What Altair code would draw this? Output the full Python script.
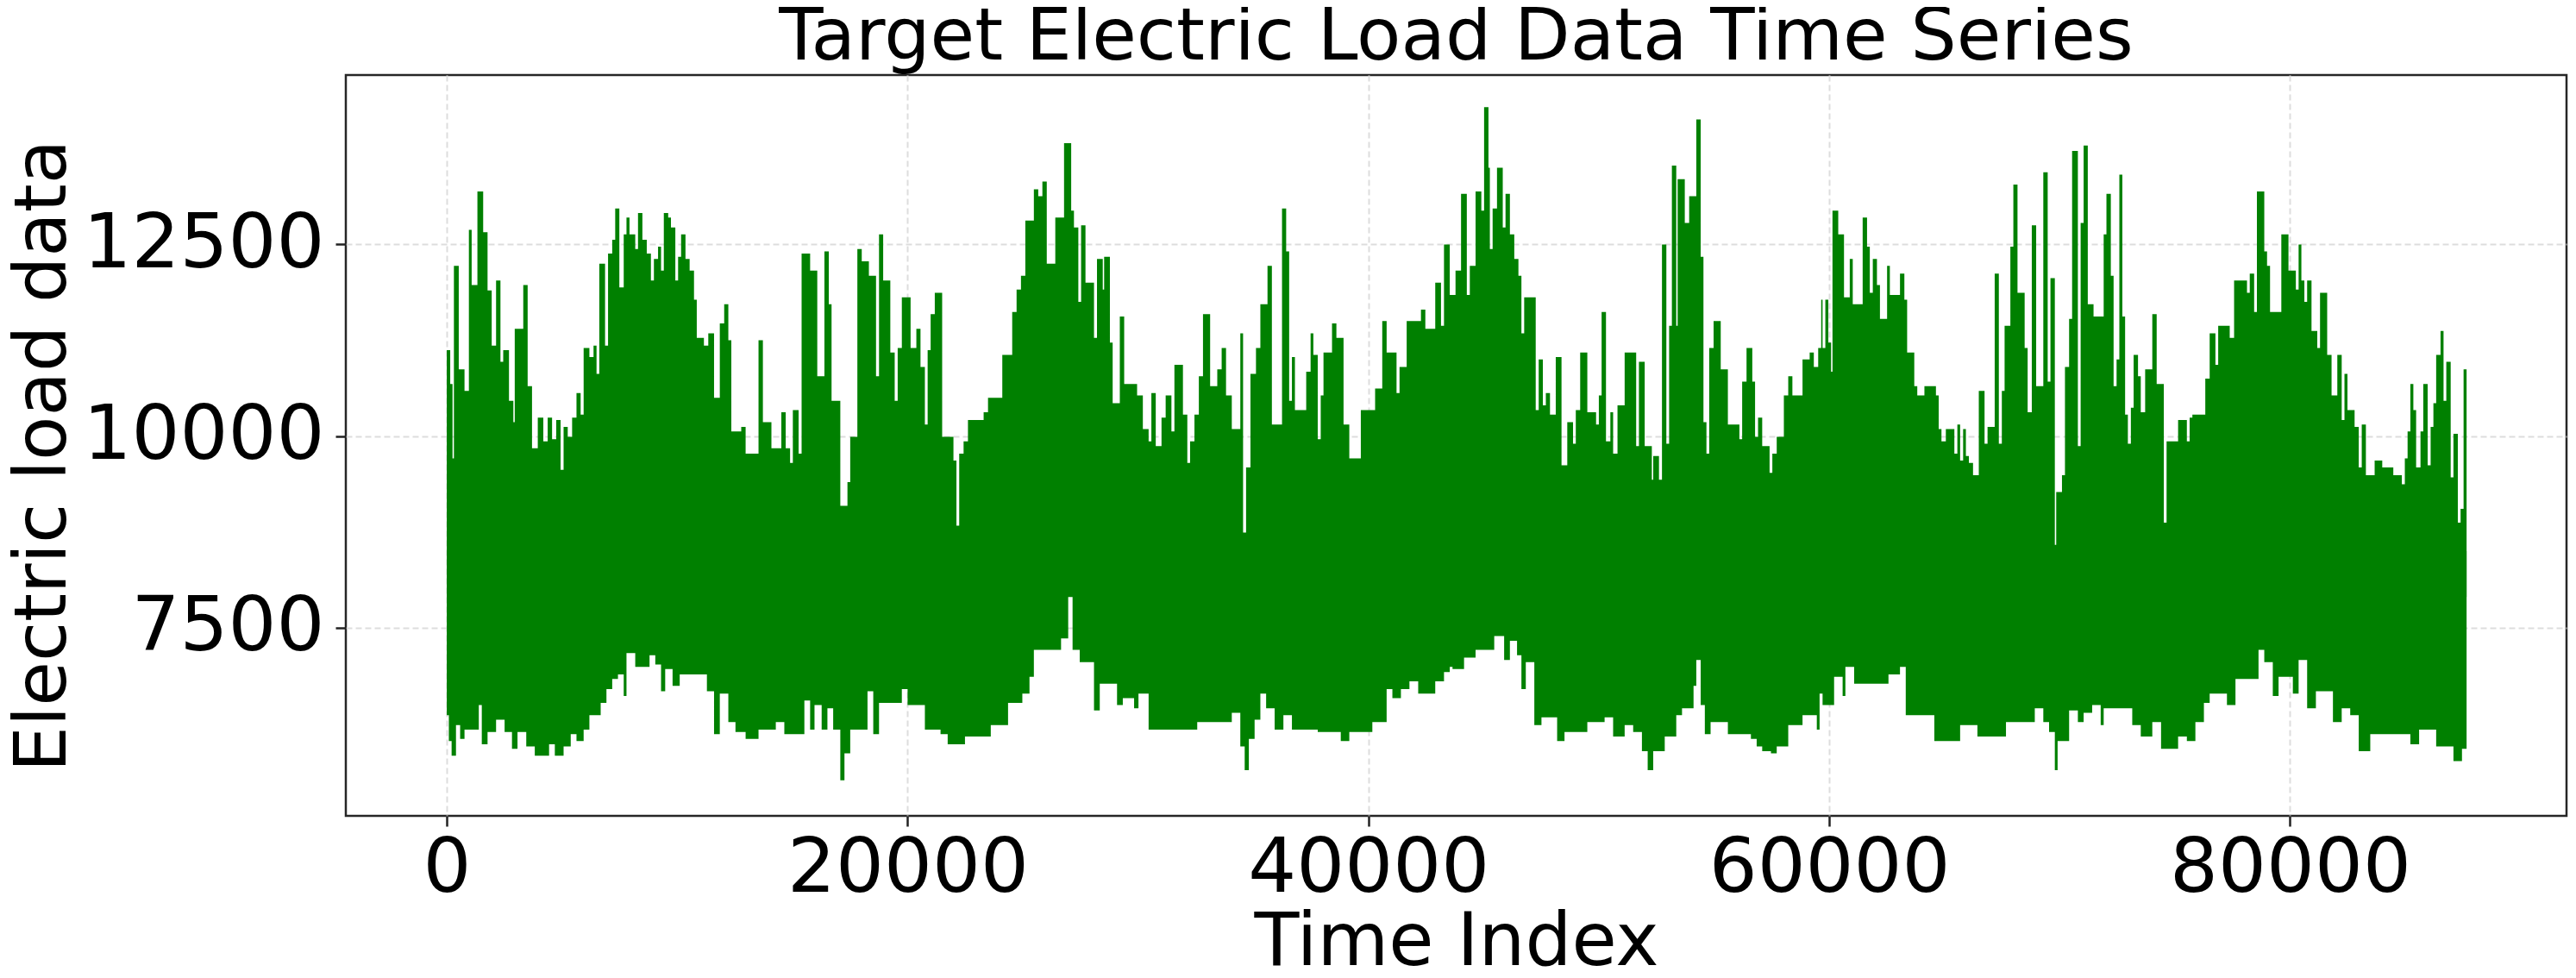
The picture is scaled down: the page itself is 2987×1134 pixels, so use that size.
import altair as alt
import pandas as pd

# ---- values (time index, electric load) ----
# upper envelope of the hourly series (start of each step, value)
upper_idx = [0, 150, 250, 310, 520, 770, 960, 1080, 1330, 1580, 1770, 1950, 2140, 2330, 2450, 2700, 2890, 2950, 3320, 3510, 3700, 3950, 4190, 4380, 4570, 4750, 4940, 5070, 5250, 5440, 5630, 5810, 5940, 6190, 6370, 6500, 6620, 6870, 7000, 7180, 7310, 7490, 7680, 7800, 7930, 8180, 8300, 8490, 8680, 8860, 8990, 9170, 9300, 9420, 9610, 9730, 9920, 10040, 10170, 10360, 10540, 10730, 10850, 11160, 11350,
             11600, 11850, 12040, 12220, 12350, 12780, 12970, 13530, 13720, 14090, 14520, 14710, 14900, 15020, 15270, 15400, 15770, 16080, 16390, 16580, 16700, 17080, 17390, 17510, 17820, 18010, 18320, 18630, 18760, 18940, 19250, 19440, 19570, 19750, 20130, 20380, 20560, 20750, 20870, 21000, 21180, 21500, 21990, 22120, 22240, 22430, 22620, 23300, 23490, 24110, 24540, 24730, 24920, 25110, 25480, 25670, 25850, 26040, 26410, 26790, 27100, 27220, 27410, 27530,
             27720, 28090, 28220, 28470, 28530, 28780, 28900, 29210, 29400, 29960, 30210, 30460, 30580, 30770, 31020, 31200, 31450, 31580, 31950, 32140, 32260, 32450, 32640, 32820, 33130, 33440, 33630, 33820, 34070, 34440, 34560, 34690, 34880, 35120, 35310, 35620, 35810, 36250, 36430, 36560, 36680, 36810, 37300, 37490, 37610, 37800, 37930, 38050, 38420, 38610, 38920, 39170, 39670, 40290, 40600, 40790, 41220, 41350, 41660, 42280, 42470, 42900, 43150, 43280, 43530,
             43780, 44020, 44270, 44400, 44650, 44900, 45020, 45210, 45270, 45390, 45580, 45830, 45950, 46140, 46330, 46510, 46640, 46760, 47260, 47390, 47570, 47700, 47880, 48130, 48380, 48630, 48880, 49000, 49190, 49500, 49880, 50000, 50120, 50310, 50500, 50620, 50810, 51120, 51620, 51740, 51990, 52300, 52360, 52610, 52740, 52930, 53050, 53170, 53360, 53420, 53730, 53920, 54230, 54420, 54540, 54670, 54790, 54980, 55290, 55600, 56100, 56220, 56410, 56660, 56780, 56910, 57090, 57410, 57530, 57720, 58030, 58220, 58400, 58840, 59150, 59330, 59520, 59650,
             59710, 59830, 59960, 60080, 60140, 60390, 60640, 60890, 61020, 61450, 61640, 61760, 61890, 62070, 62200, 62510, 62630, 63070, 63260, 63380, 63690, 63820, 64130, 64630, 64750, 64870, 65060, 65430, 65560, 65680, 65810, 65930, 66060, 66240, 66490, 66740, 66870, 67180, 67360, 67490, 67610, 67860, 67990, 68170, 68480, 68610, 68790, 68980, 69290, 69480, 69600, 69790, 69850, 70100, 70230, 70410, 70540, 70790, 70910, 71040, 71220, 71470, 71910, 72030, 72220, 72340, 72470, 72590, 72720, 72840, 72960, 73090, 73210, 73400, 73520, 73710, 74020, 74210, 74520, 74640, 75140, 75520, 75640,
             75760, 76320, 76510, 76760, 76880, 77380, 77570, 78130, 78250, 78440, 78560, 78880, 79000, 79130, 79620, 79930, 80250, 80370, 80490, 80620, 80740, 80930, 81180, 81300, 81610, 81800, 82050, 82240, 82360, 82490, 82800, 82980, 83110, 83290, 83670, 84000, 84480, 84850, 84980, 85100, 85220, 85350, 85470, 85660, 85780, 85970, 86100, 86220, 86340, 86530, 86660, 86780, 86970, 87090, 87280, 87400, 87530, 87660]
upper_val = [11120, 10680, 9710, 12220, 10870, 10590, 12690, 11970, 13190, 12660, 11900, 11180, 12030, 10970, 11120, 10460, 10180, 11400, 11970, 10650, 9840, 10240, 9930, 10240, 9960, 10210, 9560, 10120, 9990, 10240, 10560, 10280, 11150, 11030, 11180, 10810, 12250, 11180, 12380, 12560, 12970, 11940, 12630, 12850, 12630, 12440, 12910, 12560, 12380, 12030, 12310, 12470, 12160, 12910, 12850, 12720, 12030, 12340, 12630, 12310, 12160, 11780, 11280, 11180, 11340,
             10500, 11470, 11720, 11250, 10060, 10120, 9770, 11250, 10180, 9840, 10310, 9840, 9650, 10340, 9770, 12380, 12160, 10780, 12410, 11720, 10460, 9090, 9400, 9990, 12440, 12280, 12090, 10780, 12630, 12030, 11090, 10460, 11150, 11810, 11150, 11400, 10900, 10150, 11120, 11590, 11870, 9990, 9680, 8830, 9770, 9930, 10210, 10310, 10500, 11060, 11620, 11910, 12090, 12810, 13220, 13130, 13320, 12250, 12850, 13820, 12940, 12720, 11750, 12750,
             12000, 11280, 12310, 11910, 12340, 11220, 10430, 11560, 10680, 10530, 10090, 9930, 10560, 9870, 10240, 10530, 10060, 10930, 10280, 9650, 9930, 10280, 10780, 11590, 10650, 10870, 11150, 10530, 10090, 11340, 8740, 9590, 10810, 11150, 11720, 12220, 10150, 12970, 12410, 10460, 11030, 10340, 10840, 11340, 11060, 9960, 10530, 11090, 11470, 11280, 10150, 9710, 10340, 10620, 11500, 11090, 10560, 10900, 11500, 11650, 11400, 12000, 11440, 12500, 11840,
             12160, 13160, 11840, 12220, 13190, 12940, 14290, 13500, 12440, 12970, 13500, 12720, 13160, 12630, 12310, 12090, 11340, 11810, 10340, 11000, 10400, 10560, 10280, 11030, 9620, 10180, 9900, 10340, 11090, 10310, 10150, 10530, 11620, 9930, 10310, 9770, 10400, 11090, 9870, 10970, 9870, 9430, 9740, 9430, 12500, 9900, 11440, 13530, 11440, 13350, 12780, 13130, 14130, 12340, 10180, 9770, 11150, 11500, 10870, 10150, 9960, 10710, 11150, 10710, 9990, 10240, 9870, 9520, 9770, 9990, 10530, 10780, 10530, 11000, 11090, 10900, 11150, 11780,
             11150, 11780, 11220, 10840, 12940, 12630, 11810, 12310, 11720, 12850, 12470, 11870, 12310, 11970, 11530, 12220, 11840, 12120, 11780, 11090, 10650, 10530, 10650, 10530, 10090, 9930, 10090, 9770, 10150, 9680, 10090, 9740, 9650, 9490, 10590, 9900, 10120, 12120, 9900, 10590, 11440, 12470, 13280, 11870, 11150, 10310, 12750, 10650, 13440, 10710, 12060, 8580, 9270, 9490, 10900, 11530, 13720, 9870, 12780, 13790, 11720, 11560, 12630, 13160, 12090, 10650, 11000, 13410, 11560, 10280, 9900, 10370, 11060, 10780, 10310, 10870, 11590, 10680, 8870, 9930, 10210, 9930, 10240,
             10280, 10750, 11340, 10930, 11440, 11280, 12030, 11870, 12120, 11620, 13190, 12410, 12220, 11620, 12630, 12160, 11910, 12500, 12030, 11750, 12030, 11370, 11150, 11870, 11060, 10530, 11060, 10210, 10810, 10340, 10120, 9590, 10150, 9490, 9680, 9590, 9490, 9370, 9710, 10060, 10680, 10340, 9590, 10060, 10680, 9620, 10120, 10430, 11060, 11370, 10460, 10970, 9460, 10030, 8870, 9050, 10870, 10870]

# lower envelope of the hourly series (start of each step, value)
lower_idx = [0, 90, 210, 400, 580, 770, 1390, 1520, 1770, 2140, 2510, 2830, 3070, 3450, 3820, 4440, 4690, 5070, 5380, 5630, 5940, 6190, 6680, 6930, 7180, 7430, 7680, 7800, 8180, 8800, 9050, 9300, 9480, 9800, 10110, 11290,
             11600, 11850, 12220, 12530, 12970, 13530, 14280, 14650, 15520, 15770, 15960, 16270, 16520, 16770, 17080, 17260, 17510, 18260, 18510, 18760, 19750, 20000, 20750, 21430, 21740, 22490, 23610, 24360, 24980, 25290, 25480, 26660, 26970, 27160, 27470,
             28090, 28340, 29090, 29340, 29830, 30020, 30460, 32570, 34070, 34440, 34630, 34810, 35060, 35310, 35560, 35930, 36310, 36680, 37800, 38800, 39170, 40170, 40790, 41040, 41410, 41780, 42160, 42900, 43280, 43530,
             43650, 44150, 44650, 45460, 45890, 46140, 46450, 46640, 46830, 47200, 47510, 48190, 48510, 49500, 50250, 50620, 51120, 51490, 51870, 52120, 52360, 52860, 53360, 53610, 54110, 54230, 54420, 54600, 54850, 55600, 56600, 56850, 57090, 57470, 57720, 58220, 58840, 59460, 59580,
             59710, 60210, 60580, 60700, 61080, 62570, 63070, 63320, 64560, 65680, 66430, 67670, 68920, 69290, 69540, 69790, 69910, 70410, 70790, 71040, 71410, 71780, 71910, 73150, 73520, 74020, 74400, 75140, 75520,
             75890, 76260, 76510, 77260, 77630, 78630, 78880, 79250, 79500, 80120, 80370, 80740, 81120, 81860, 82240, 82610, 82980, 83480, 85220, 85600, 86340, 87090, 87460, 87660]
lower_val = [6360, 6020, 5830, 6230, 6050, 6170, 6490, 5980, 6140, 6300, 6140, 5920, 6140, 5950, 5830, 5980, 5830, 5950, 6110, 6020, 6170, 6360, 6520, 6700, 6830, 6890, 6610, 7170, 6990, 7140, 7020, 6670, 6960, 6740, 6890, 6670,
             6110, 6640, 6270, 6140, 6050, 6170, 6270, 6110, 6550, 6170, 6490, 6170, 6450, 6170, 5510, 5860, 6170, 6670, 6110, 6520, 6700, 6490, 6170, 6110, 5980, 6080, 6230, 6520, 6640, 6860, 7210, 7360, 7960, 7210, 7050,
             6420, 6770, 6490, 6580, 6450, 6640, 6170, 6270, 6390, 5950, 5640, 6050, 6300, 6640, 6450, 6170, 6360, 6170, 6140, 6020, 6140, 6270, 6700, 6580, 6700, 6800, 6640, 6800, 6920, 6990,
             6960, 7110, 7210, 7390, 7080, 7330, 7140, 6700, 7050, 6230, 6330, 6020, 6140, 6270, 6330, 6080, 6230, 6140, 5890, 5640, 5890, 6080, 6360, 6450, 6740, 7080, 6490, 6110, 6270, 6110, 6050, 5950, 5890, 5860, 5950, 6230, 6360, 6170, 6640,
             6490, 6860, 6610, 6990, 6770, 6890, 6990, 6360, 6020, 6230, 6080, 6270, 6450, 6270, 6140, 5640, 6020, 6420, 6270, 6390, 6490, 6230, 6450, 6230, 6080, 6270, 5920, 6080, 6020,
             6270, 6520, 6640, 6490, 6830, 7210, 7050, 6610, 6860, 6640, 7080, 6450, 6670, 6270, 6450, 6360, 5890, 6110, 5980, 6170, 5950, 5760, 5920, 5920]

x_ticks = [0, 20000, 40000, 60000, 80000]
y_ticks = [7500, 10000, 12500]

# each envelope is filled towards the always-solid middle of the band
upper_base = 7900
lower_base = 8500

df = pd.concat([
    pd.DataFrame({"t": upper_idx, "v": upper_val, "base": upper_base, "part": "upper"}),
    pd.DataFrame({"t": lower_idx, "v": lower_val, "base": lower_base, "part": "lower"}),
], ignore_index=True)

W, H = 2575, 859
FONT = "DejaVu Sans"

chart = alt.Chart(df).mark_area(
    interpolate="step-after", color="#008000", opacity=1
).encode(
    x=alt.X("t:Q",
            scale=alt.Scale(domain=[-4381, 91997], nice=False, zero=False),
            axis=alt.Axis(values=x_ticks, format="d", grid=True,
                          labelFontSize=88, labelPadding=5, labelFlush=False,
                          labelOverlap=False, labelLimit=0,
                          title="Time Index", titleFontSize=85,
                          titleBaseline="alphabetic", titleY=172, titleX=W / 2)),
    y=alt.Y("v:Q", stack=None,
            scale=alt.Scale(domain=[5045, 14710], nice=False, zero=False),
            axis=alt.Axis(values=y_ticks, format="d", grid=True,
                          labelFontSize=88, labelPadding=13, labelLimit=0,
                          labelOverlap=False, labelFlush=False,
                          title="Electric load data", titleFontSize=84,
                          titleAngle=270, titleBaseline="alphabetic",
                          titleAlign="center", titleX=-326, titleY=441)),
    y2="base:Q",
    detail="part:N",
).properties(
    width=W, height=H,
    title=alt.TitleParams("Target Electric Load Data Time Series",
                          fontSize=84, font=FONT, fontWeight="normal",
                          anchor="middle", frame="group",
                          offset=0, color="black"),
    autosize=alt.AutoSizeParams(type="none"),
    padding={"left": 393, "top": 79, "right": 2, "bottom": 178},
).configure_axis(
    domain=False,
    labelFont=FONT, titleFont=FONT, labelColor="black", titleColor="black",
    titleFontWeight="normal",
    tickColor="#222222", tickWidth=2.5, tickSize=12,
    gridColor="#dddddd", gridDash=[7, 4], gridWidth=2,
).configure_view(
    stroke="#262626", strokeWidth=2.5
)

chart.save("out.html", embed_options={"renderer": "svg", "actions": False})
